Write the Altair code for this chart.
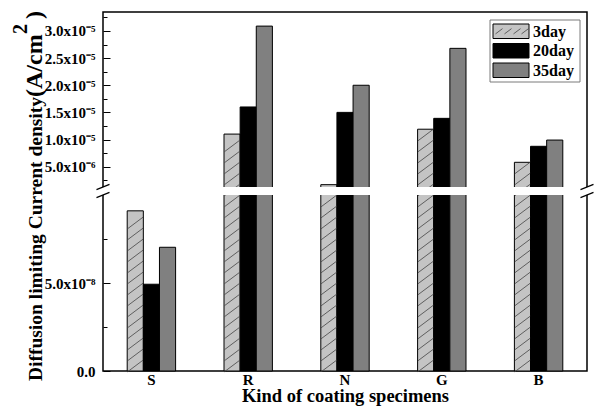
import altair as alt
import numpy as np
import pandas as pd

# ---- data -------------------------------------------------------------
categories = ["S", "R", "N", "G", "B"]
series = ["3day", "20day", "35day"]
day3 = [9.1e-8, 1.10e-5, 1.68e-6, 1.19e-5, 5.8e-6]
day20 = [4.93e-8, 1.60e-5, 1.50e-5, 1.39e-5, 8.75e-6]
day35 = [7.03e-8, 3.09e-5, 2.00e-5, 2.68e-5, 9.9e-6]

major_ticks = [0.0, 5e-8, 5e-6, 1e-5, 1.5e-5, 2e-5, 2.5e-5, 3e-5]
major_labels = ["0.0", "5.0x10⁻⁸", "5.0x10⁻⁶", "1.0x10⁻⁵", "1.5x10⁻⁵",
                "2.0x10⁻⁵", "2.5x10⁻⁵", "3.0x10⁻⁵"]
minor_ticks = [2.5e-8, 7.5e-8, 2.5e-6, 7.5e-6, 1.25e-5, 1.75e-5,
               2.25e-5, 2.75e-5, 3.25e-5]

# ---- layout -----------------------------------------------------------
W, H = 484, 359
# broken value axis: lower segment [0, 1e-7], a gap, upper segment [1.25e-6, 3.35e-5]
Y_DOMAIN = [0.0, 1e-7, 1.25e-6, 3.35e-5]
Y_RANGE = [H, 183, 175, 0]
SERIF = "Liberation Serif"
COLORS = ["#c4c4c4", "#000000", "#808080"]

df = pd.DataFrame({
    "cat": categories * 3,
    "series": [s for s in series for _ in categories],
    "value": day3 + day20 + day35,
})

yscale = alt.Scale(domain=Y_DOMAIN, range=Y_RANGE, nice=False, zero=False)
xscale = alt.Scale(domain=categories, paddingInner=0.5, paddingOuter=0.25)
offscale = alt.Scale(domain=series, paddingInner=0, paddingOuter=0)


def label_expr(values, labels):
    expr = "''"
    for v, lab in reversed(list(zip(values, labels))):
        expr = f"abs(datum.value - {v!r}) < 1e-12 ? '{lab}' : ({expr})"
    return expr


major_test = " || ".join(f"abs(datum.value - {v!r}) < 1e-12" for v in major_ticks)

x_axis = alt.Axis(title="Kind of coating specimens", ticks=False, domain=False,
                  labelAngle=0, labelFont=SERIF, labelFontWeight="bold",
                  labelFontSize=15, labelColor="black", labelPadding=1,
                  titleFont=SERIF, titleFontWeight="bold", titleFontSize=18.5,
                  titleColor="black", titleBaseline="alphabetic", titleY=30)

bars = alt.Chart(df).mark_bar(stroke="black", strokeWidth=1, strokeOpacity=1).encode(
    x=alt.X("cat:N", scale=xscale, sort=categories, axis=x_axis),
    xOffset=alt.XOffset("series:N", scale=offscale, sort=series),
    y=alt.Y("value:Q", scale=yscale,
            axis=alt.Axis(orient="left", title=None, domain=False, ticks=False, grid=False,
                          values=major_ticks, labelExpr=label_expr(major_ticks, major_labels),
                          labelFont=SERIF, labelFontWeight="bold", labelFontSize=15,
                          labelColor="black", labelPadding=8)),
    y2=alt.datum(0),
    fill=alt.Fill("series:N", scale=alt.Scale(domain=series, range=COLORS), legend=None),
)

# ---- diagonal hatching of the 3day bars -------------------------------
heights = [H - r for r in Y_RANGE]


def to_height(v):
    return float(np.interp(v, Y_DOMAIN, heights))


def to_value(h):
    return float(np.interp(h, heights, Y_DOMAIN))


hatch_rows = []
for cat, v in zip(categories, day3):
    top = to_height(v)
    h = 5.0
    while h <= top - 5.5:
        hatch_rows.append({"cat": cat, "series": "3day", "value": to_value(h)})
        h += 11.0
hatch_df = pd.DataFrame(hatch_rows)

SLASH = "M-1,0.75L1,-0.75"
hatch = alt.Chart(hatch_df).mark_point(
    shape=SLASH, size=240, filled=False, stroke="#444444", strokeWidth=0.8, opacity=1
).encode(
    x=alt.X("cat:N", scale=xscale, sort=categories, axis=x_axis),
    xOffset=alt.XOffset("series:N", scale=offscale, sort=series),
    y=alt.Y("value:Q", scale=yscale,
            axis=alt.Axis(orient="right", offset=-W, domain=False, labels=False, grid=False,
                          title=None, values=major_ticks + minor_ticks, tickColor="black",
                          tickWidth=1,
                          tickSize={"condition": {"test": major_test, "value": 7}, "value": 4})),
)

# ---- the break: white band across the frame plus the "//" marks -------
gap_df = pd.DataFrame({"lo": [Y_DOMAIN[1]], "hi": [Y_DOMAIN[2]]})
band = alt.Chart(gap_df).mark_rect(fill="white").encode(
    x=alt.value(-12), x2=alt.value(W + 12),
    y=alt.Y("lo:Q", scale=yscale, axis=None), y2="hi:Q",
)

edge_df = pd.DataFrame({"edge": Y_DOMAIN[1:3]})
BREAK = "M-1,0.4L1,-0.4"
break_left = alt.Chart(edge_df).mark_point(
    shape=BREAK, size=169, filled=False, stroke="black", strokeWidth=1.2, opacity=1
).encode(x=alt.value(0), y=alt.Y("edge:Q", scale=yscale, axis=None))
break_right = alt.Chart(edge_df).mark_point(
    shape=BREAK, size=169, filled=False, stroke="black", strokeWidth=1.2, opacity=1
).encode(x=alt.value(W), y=alt.Y("edge:Q", scale=yscale, axis=None))

# ---- legend -------------------------------------------------------------
one = pd.DataFrame({"k": [0]})
legend_layers = [
    alt.Chart(one).mark_rect(fill="white", stroke="#7a7a7a", strokeWidth=1).encode(
        x=alt.value(387), x2=alt.value(477), y=alt.value(8), y2=alt.value(70))
]
row_tops = [12, 31.5, 51]
for name, col, top in zip(series, COLORS, row_tops):
    legend_layers.append(
        alt.Chart(one).mark_rect(fill=col, stroke="black", strokeWidth=1).encode(
            x=alt.value(390), x2=alt.value(426), y=alt.value(top), y2=alt.value(top + 14.5)))
    legend_layers.append(
        alt.Chart(one).mark_text(text=name, font=SERIF, fontWeight="bold", fontSize=16,
                                 align="left", baseline="middle", color="black").encode(
            x=alt.value(430), y=alt.value(top + 7.5)))
for hx in [396, 405, 414, 422]:
    legend_layers.append(
        alt.Chart(one).mark_point(shape=SLASH, size=49, filled=False, stroke="#444444",
                                  strokeWidth=0.8, opacity=1).encode(
            x=alt.value(hx), y=alt.value(row_tops[0] + 7.25)))

# ---- value-axis title ---------------------------------------------------
title_parts = [
    ("Diffusion limiting Current density", 19.5, -61, 85, "right"),
    ("(A/cm", 24, -61, 85, "left"),
    ("2", 20, -76, 22, "left"),
    (")", 24, -61, 7, "left"),
]
title_layers = [
    alt.Chart(one).mark_text(text=t, font=SERIF, fontWeight="bold", fontSize=fs, angle=270,
                             align=al, baseline="alphabetic", color="black").encode(
        x=alt.value(tx), y=alt.value(ty))
    for t, fs, tx, ty, al in title_parts
]

chart = alt.layer(
    bars, hatch, band, break_left, break_right, *legend_layers, *title_layers
).resolve_axis(y="independent").properties(
    width=W, height=H,
    autosize=alt.AutoSizeParams(type="none"),
    padding={"left": 103, "top": 12, "right": 12, "bottom": 41},
    background="white",
).configure_view(stroke="black", strokeWidth=1.5)

chart.save("out.html", embed_options={"renderer": "svg", "actions": False})
